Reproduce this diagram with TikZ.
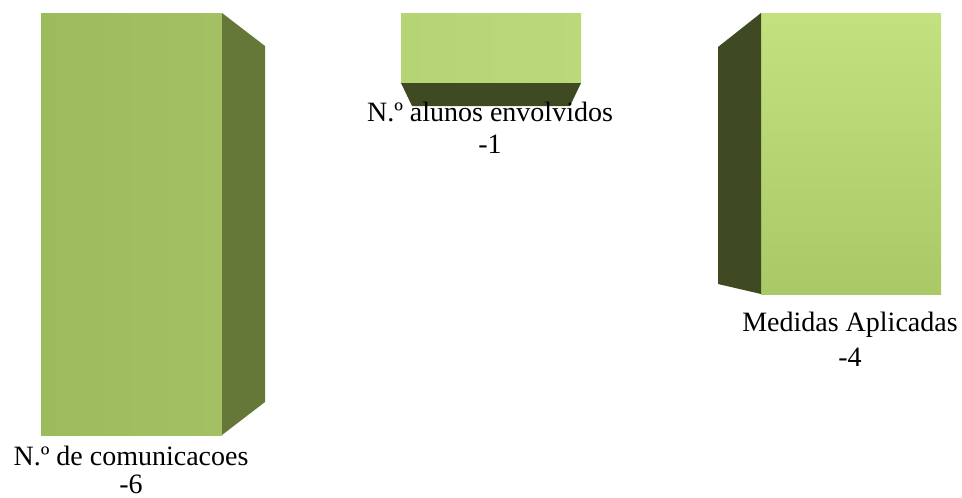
\documentclass[tikz,border=0pt]{standalone}
\usepackage{fontspec}
\setmainfont{Liberation Serif}
\definecolor{frontA}{HTML}{9CBC5B}
\definecolor{frontAl}{HTML}{A3C163}
\definecolor{sideA}{HTML}{667838}
\definecolor{frontB}{HTML}{B5D474}
\definecolor{frontBl}{HTML}{BADA7A}
\definecolor{sideB}{HTML}{3F4A22}
\definecolor{frontCt}{HTML}{C3E17F}
\definecolor{frontCb}{HTML}{A9C866}
\tikzset{
  lbl/.style={font=\fontsize{28}{32}\selectfont, text=black, inner sep=0pt, align=center}
}
\begin{document}
\begin{tikzpicture}[x=1pt,y=-1pt]
\useasboundingbox (0,0) rectangle (962,498);
% left box
\shade[left color=frontA, right color=frontAl] (41,13) rectangle (222,435);
\fill[sideA] (222,13) -- (265,46) -- (265,402) -- (222,435) -- cycle;
% middle box
\shade[left color=frontB, right color=frontBl] (401,13) rectangle (581,83);
\fill[sideB] (401,83) -- (581,83) -- (570,106) -- (412,106) -- cycle;
% right box
\shade[top color=frontCt, bottom color=frontCb] (761,13) rectangle (941,294);
\fill[sideB] (761,13) -- (718,47) -- (718,284) -- (761,294) -- cycle;
% labels
\node[lbl] (la) at (131,456) {N.º de comunicacoes};
\node[lbl] (lav) at (131,484) {-6};
\node[lbl] (lb) at (490,112) {N.º alunos envolvidos};
\node[lbl] (lbv) at (490,144) {-1};
\node[lbl] (lc) at (850,325) {Medidas Aplicadas};
\node[lbl] (lcv) at (850,357) {-4};
\end{tikzpicture}
\end{document}
